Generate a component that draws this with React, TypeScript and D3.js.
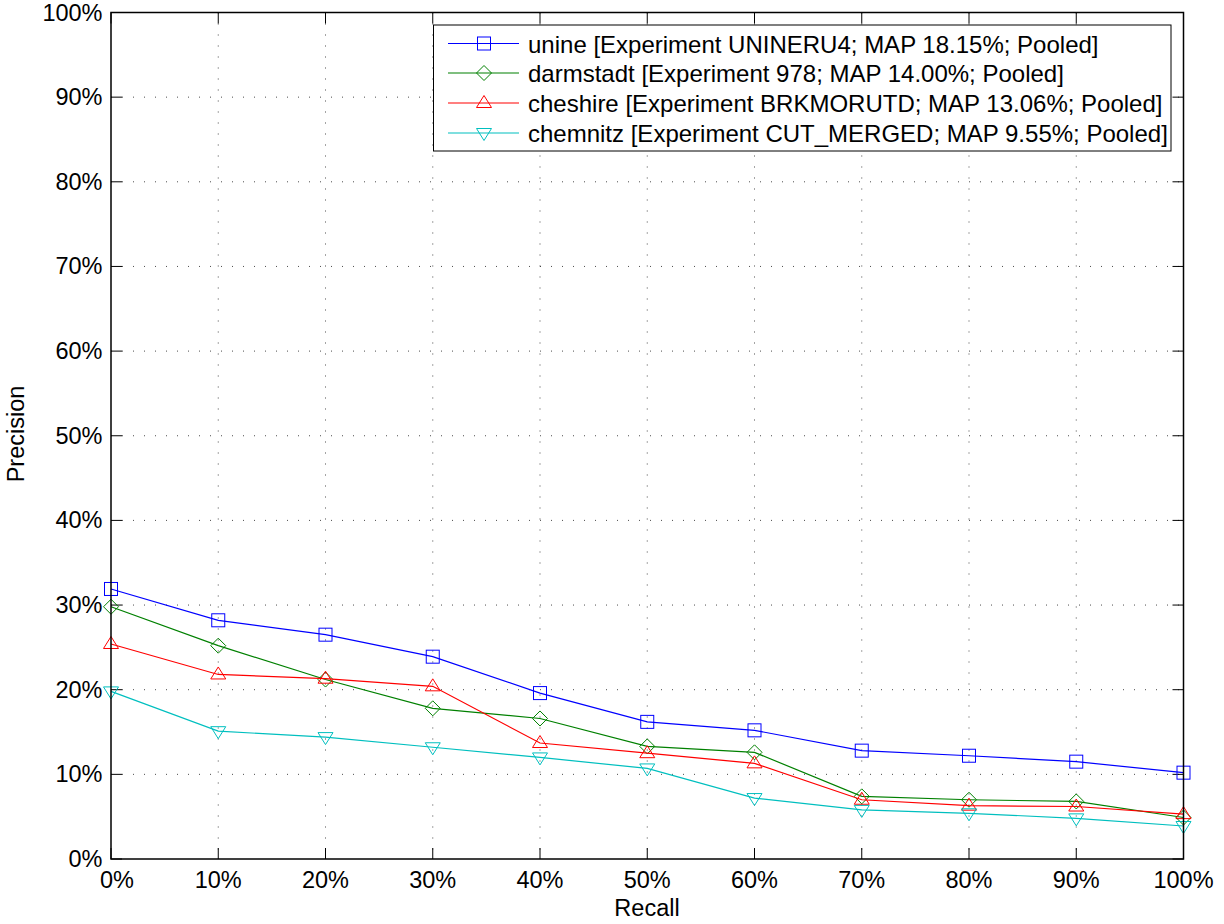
import React from "react";
import * as d3 from "d3";

const recall = [0, 10, 20, 30, 40, 50, 60, 70, 80, 90, 100];
const unine = [31.9, 28.2, 26.5, 23.9, 19.6, 16.2, 15.2, 12.8, 12.2, 11.5, 10.2];
const darmstadt = [29.8, 25.2, 21.2, 17.8, 16.6, 13.3, 12.6, 7.4, 7.0, 6.8, 4.9];
const cheshire = [25.4, 21.8, 21.3, 20.4, 13.7, 12.5, 11.3, 7.0, 6.3, 6.2, 5.3];
const chemnitz = [19.8, 15.1, 14.4, 13.2, 12.0, 10.7, 7.2, 5.8, 5.4, 4.8, 3.9];
const seriesNames = [
  "unine [Experiment UNINERU4; MAP 18.15%; Pooled]",
  "darmstadt [Experiment 978; MAP 14.00%; Pooled]",
  "cheshire [Experiment BRKMORUTD; MAP 13.06%; Pooled]",
  "chemnitz [Experiment CUT_MERGED; MAP 9.55%; Pooled]",
];
const seriesColors = ["#0000ff", "#008000", "#ff0000", "#00bfbf"];
const seriesMarkers = ["square", "diamond", "triangleUp", "triangleDown"];
const xTicks = [0, 10, 20, 30, 40, 50, 60, 70, 80, 90, 100];
const yTicks = [0, 10, 20, 30, 40, 50, 60, 70, 80, 90, 100];

const W = 1224, H = 924;
const L = 111, R = 1183.5, T = 12.5, B = 859;
const FONT = "'Liberation Sans', Arial, Helvetica, sans-serif";
const FS = 23.5;

function Marker({ type, x, y, color }: { type: string; x: number; y: number; color: string }) {
  const s = 6.5;
  if (type === "square")
    return <rect x={x - s} y={y - s} width={2 * s} height={2 * s} fill="none" stroke={color} strokeWidth={1} />;
  if (type === "diamond") {
    const d = 7.5;
    return <path d={`M${x},${y - d}L${x + d},${y}L${x},${y + d}L${x - d},${y}Z`} fill="none" stroke={color} strokeWidth={1} />;
  }
  if (type === "triangleUp") {
    const d = 7.5;
    return <path d={`M${x},${y - d}L${x + d},${y + d * 0.6}L${x - d},${y + d * 0.6}Z`} fill="none" stroke={color} strokeWidth={1} />;
  }
  const d = 7.5;
  return <path d={`M${x},${y + d}L${x + d},${y - d * 0.6}L${x - d},${y - d * 0.6}Z`} fill="none" stroke={color} strokeWidth={1} />;
}

export default function App() {
  const x = d3.scaleLinear().domain([0, 100]).range([L, R]);
  const y = d3.scaleLinear().domain([0, 100]).range([B, T]);
  const data = [unine, darmstadt, cheshire, chemnitz];
  const line = d3
    .line<number>()
    .x((_, i) => x(recall[i]))
    .y((v) => y(v));

  const legX = 433.5, legY = 25, legW = 737.5, legH = 126;
  const rowY = [43.5, 73, 103, 133];

  return (
    <svg width={W} height={H} style={{ position: "absolute", left: 0, top: 0, background: "#fff" }} fontFamily={FONT}>
      <rect x={0} y={0} width={W} height={H} fill="#fff" />
      {/* grid */}
      {xTicks.slice(1, -1).map((t) => (
        <line key={"gx" + t} x1={x(t)} x2={x(t)} y1={T} y2={B} stroke="#000" strokeWidth={1} strokeDasharray="1,10" opacity={0.7} />
      ))}
      {yTicks.slice(1, -1).map((t) => (
        <line key={"gy" + t} x1={L} x2={R} y1={y(t)} y2={y(t)} stroke="#000" strokeWidth={1} strokeDasharray="1,10" opacity={0.7} />
      ))}
      {/* ticks */}
      {xTicks.map((t) => (
        <g key={"tx" + t}>
          <line x1={x(t)} x2={x(t)} y1={B} y2={B - 11} stroke="#000" />
          <line x1={x(t)} x2={x(t)} y1={T} y2={T + 11} stroke="#000" />
          <text x={x(t)} dx={t === 0 ? 6 : 0} y={888} fontSize={FS} textAnchor="middle">{t}%</text>
        </g>
      ))}
      {yTicks.map((t) => (
        <g key={"ty" + t}>
          <line x1={L} x2={L + 11} y1={y(t)} y2={y(t)} stroke="#000" />
          <line x1={R} x2={R - 11} y1={y(t)} y2={y(t)} stroke="#000" />
          <text x={102.5} y={y(t) + 8} fontSize={FS} textAnchor="end">{t}%</text>
        </g>
      ))}
      {/* series */}
      {data.map((vals, si) => (
        <g key={"s" + si}>
          <path d={line(vals) || ""} fill="none" stroke={seriesColors[si]} strokeWidth={1.2} />
          {vals.map((v, i) => (
            <Marker key={i} type={seriesMarkers[si]} x={x(recall[i])} y={y(v)} color={seriesColors[si]} />
          ))}
        </g>
      ))}
      {/* axes box */}
      <rect x={L} y={T} width={R - L} height={B - T} fill="none" stroke="#000" strokeWidth={1.5} />
      {/* legend */}
      <rect x={legX} y={legY} width={legW} height={legH} fill="#fff" stroke="#000" strokeWidth={1} />
      {seriesNames.map((n, i) => (
        <g key={"l" + i}>
          <line x1={448} x2={519} y1={rowY[i]} y2={rowY[i]} stroke={seriesColors[i]} strokeWidth={1.2} />
          <Marker type={seriesMarkers[i]} x={484} y={rowY[i]} color={seriesColors[i]} />
          <text x={528} y={rowY[i] + 9} fontSize={24}>{n}</text>
        </g>
      ))}
      <text x={647} y={916} fontSize={FS} textAnchor="middle">Recall</text>
      <text transform={`translate(24,434) rotate(-90)`} fontSize={FS} textAnchor="middle">Precision</text>
    </svg>
  );
}
